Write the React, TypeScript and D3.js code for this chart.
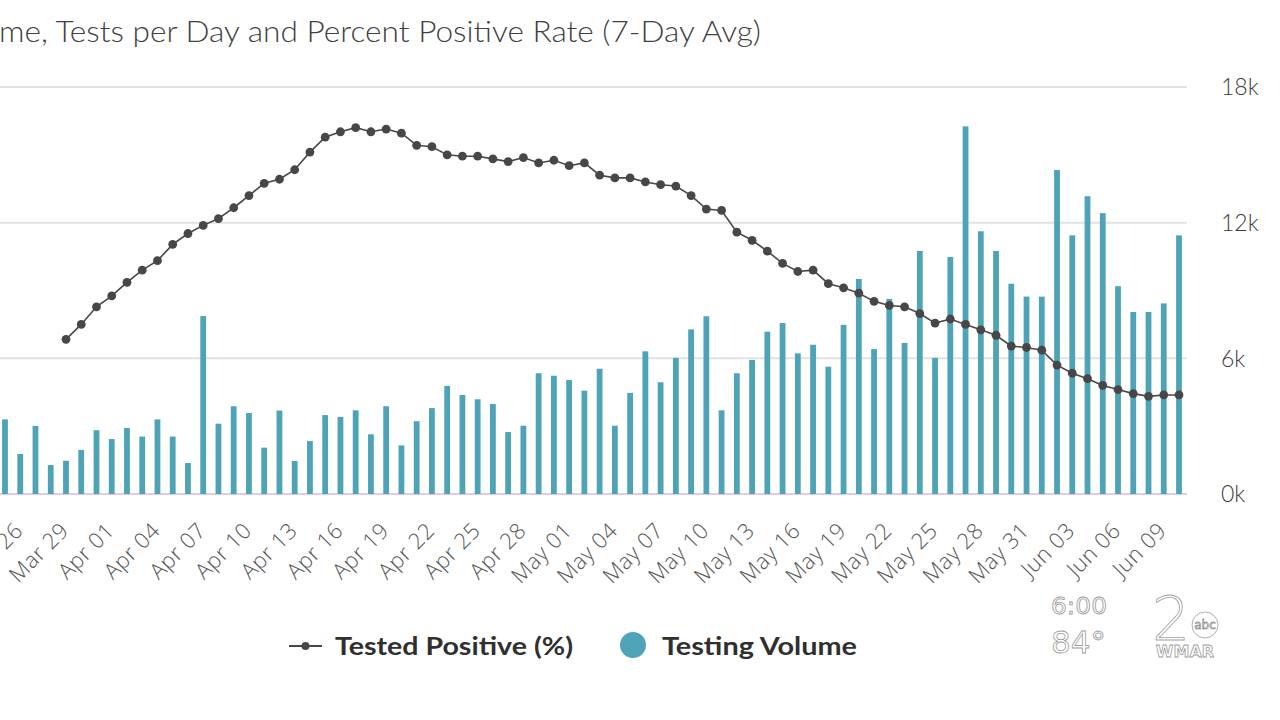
import React from "react";
import * as d3 from "d3";

// Categories: daily dates Mar 25 – Jun 10 (2020)
const startDate = new Date(2020, 2, 25);
const endDate = new Date(2020, 5, 11);
const dates: Date[] = d3.timeDay.range(startDate, endDate);

// Testing Volume (tests per day), Mar 25 – Jun 10
const testingVolume: number[] = [
  3300, 1770, 3010, 1280, 1470, 1950, 2820,
  2430, 2920, 2540, 3300, 2540, 1370, 7870, 3110, 3880, 3580,
  2050, 3690, 1460, 2340, 3490, 3410, 3700, 2640, 3880, 2150,
  3220, 3800, 4780, 4380, 4190, 3980, 2740, 3020, 5340, 5230,
  5040, 4570, 5540, 3020, 4470, 6310, 4940, 6020, 7280, 7860,
  3700, 5340, 5930, 7180, 7560, 6220, 6600, 5630, 7480, 9510,
  6410, 8630, 6680, 10750, 6020, 10480, 16260, 11620, 10750, 9300, 8730,
  8730, 14330, 11440, 13170, 12420, 9190, 8050, 8050, 8430, 11440,
];

// Tested Positive (%) 7-day average, Mar 29 – Jun 10
const positiveStartIndex = 4;
const testedPositive: number[] = [
  11.4, 12.5, 13.8,
  14.6, 15.6, 16.5, 17.2, 18.4, 19.2, 19.8, 20.3, 21.1, 22.0,
  22.9, 23.2, 23.9, 25.2, 26.3, 26.7, 27.0, 26.7, 26.9, 26.6,
  25.7, 25.6, 25.0, 24.9, 24.9, 24.7, 24.5, 24.8, 24.4, 24.6,
  24.2, 24.4, 23.5, 23.3, 23.3, 23.0, 22.8, 22.7, 22.0, 21.0,
  20.9, 19.3, 18.7, 17.9, 17.0, 16.4, 16.5, 15.5, 15.2, 14.8,
  14.2, 13.9, 13.8, 13.3, 12.6, 12.9, 12.5, 12.1, 11.7, 10.9, 10.8,
  10.6, 9.5, 8.9, 8.5, 8.0, 7.7, 7.4, 7.2, 7.3, 7.3,
];

const volumeTicks: number[] = [0, 6000, 12000, 18000];
const titleText = "me, Tests per Day and Percent Positive Rate (7-Day Avg)";
const legendLine = "Tested Positive (%)";
const legendBar = "Testing Volume";

const TEAL = "#4ea4b6";
const DARK = "#474747";
const FONT = "'Open Sans', Lato, 'Noto Sans', sans-serif";
const LFONT = "Lato, 'Open Sans', sans-serif";

export default function App() {
  const x = d3.scalePoint<number>().domain(dates.map((_, i) => i)).range([5, 1179]);
  const step = x.step();
  const barW = step * 0.38;
  const yBar = d3.scaleLinear().domain([0, 18000]).range([494, 87]);
  const yPct = d3.scaleLinear().domain([0, 30]).range([494, 87]);
  const fmt = d3.timeFormat("%b %d");

  const linePts = testedPositive.map((v, i) => [x(i + positiveStartIndex) as number, yPct(v)] as [number, number]);
  const lineGen = d3.line();
  const tickIdx = dates.map((_, i) => i).filter((i) => (i - 1) % 3 === 0);

  return (
    <svg width={1280} height={720} style={{ position: "absolute", left: 0, top: 0, background: "#fff" }}>
      <rect width={1280} height={720} fill="#fff" />
      <text x={-1} y={42} fontFamily={LFONT} fontWeight={300} fontSize={29} fill="#3f3f3f"
        textLength={762} lengthAdjust="spacingAndGlyphs">
        {titleText}
      </text>

      {volumeTicks.map((t) => (
        <g key={t}>
          <line x1={0} x2={1187} y1={yBar(t)} y2={yBar(t)} stroke={t === 0 ? "#d9cfe3" : "#e2e2e2"} strokeWidth={2} />
          <text x={1221} y={yBar(t)} dy="0.36em" fontFamily={LFONT} fontWeight={300} fontSize={23} fill="#3c3c3c">
            {t / 1000 + "k"}
          </text>
        </g>
      ))}

      {testingVolume.map((v, i) => (
        <rect key={i} x={(x(i) as number) - barW / 2} y={yBar(v)} width={barW} height={yBar(0) - yBar(v)} fill={TEAL} />
      ))}

      <path d={lineGen(linePts) || ""} fill="none" stroke={DARK} strokeWidth={1.6} />
      {linePts.map((p, i) => (
        <circle key={i} cx={p[0]} cy={p[1]} r={4.4} fill={DARK} />
      ))}

      {tickIdx.map((i) => (
        <text
          key={i}
          transform={`translate(${(x(i) as number) + 4},${532}) rotate(-45)`}
          textAnchor="end"
          fontFamily={FONT}
          fontWeight={300}
          fontSize={22}
          letterSpacing={0.5}
          fill="#555"
        >
          {fmt(dates[i])}
        </text>
      ))}

      {/* Legend */}
      <g>
        <line x1={289} x2={322} y1={646} y2={646} stroke={DARK} strokeWidth={1.8} />
        <circle cx={305.5} cy={646} r={4} fill={DARK} />
        <text x={335} y={655} fontFamily={LFONT} fontWeight={700} fontSize={25} fill="#2f2f2f"
          textLength={238} lengthAdjust="spacingAndGlyphs">
          {legendLine}
        </text>
        <circle cx={633} cy={645} r={13} fill={TEAL} />
        <text x={662} y={655} fontFamily={LFONT} fontWeight={700} fontSize={25} fill="#2f2f2f"
          textLength={195} lengthAdjust="spacingAndGlyphs">
          {legendBar}
        </text>
      </g>

      {/* Broadcast overlay */}
      <g fill="#fff" stroke="#9a9a9a" strokeWidth={0.8} fontFamily="'DejaVu Sans', sans-serif">
        <text x={1051} y={614} fontSize={23} textLength={56} lengthAdjust="spacingAndGlyphs">6:00</text>
        <text x={1051} y={653} fontSize={31}>84°</text>
        <text x={1152} y={640} fontSize={60} fontWeight={300}>2</text>
        <circle cx={1205} cy={625} r={13} />
        <text x={1205} y={629} fontSize={12} textAnchor="middle">abc</text>
        <text x={1185} y={657} fontSize={16} fontWeight={700} textAnchor="middle">WMAR</text>
      </g>
    </svg>
  );
}
